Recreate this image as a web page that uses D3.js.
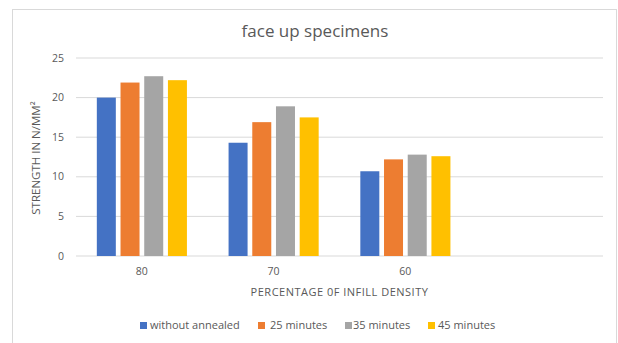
<!DOCTYPE html>
<html><head><meta charset="utf-8">
<script src="https://cdn.jsdelivr.net/npm/d3@7"></script>
<style>body{margin:0;background:#fff;} text{font-family:"Open Sans",sans-serif;fill:#595959;}</style>
</head><body>
<svg id="c" width="618" height="343"></svg>
<script>
const categories = ["80", "70", "60", ""];
const seriesNames = ["without annealed", "25 minutes", "35 minutes", "45 minutes"];
const withoutAnnealed = [20.0, 14.3, 10.7, null];
const min25 = [21.9, 16.9, 12.2, null];
const min35 = [22.7, 18.9, 12.8, null];
const min45 = [22.2, 17.5, 12.6, null];
const yTicks = [0, 5, 10, 15, 20, 25];
const colors = ["#4472C4", "#ED7D31", "#A5A5A5", "#FFC000"];
const series = [withoutAnnealed, min25, min35, min45];

const svg = d3.select("#c");
svg.append("rect").attr("x", 12.5).attr("y", 9.5).attr("width", 604).attr("height", 340)
  .attr("fill", "#fff").attr("stroke", "#D9D9D9");

const m = {l: 76, r: 603, t: 58, b: 256};
const x = d3.scaleBand().domain(categories).range([m.l, m.r]);
const y = d3.scaleLinear().domain([0, 25]).range([m.b, m.t]);

svg.append("g").selectAll("line").data(yTicks).join("line")
  .attr("x1", m.l).attr("x2", m.r).attr("y1", d => y(d)).attr("y2", d => y(d))
  .attr("stroke", "#D9D9D9").attr("stroke-width", 1);

svg.append("g").selectAll("text").data(yTicks).join("text")
  .attr("x", 64).attr("y", d => y(d)).attr("dy", "0.35em").attr("text-anchor", "end")
  .attr("font-size", 10.5).text(d => d);

const barW = 19, step = 23.7;
series.forEach((vals, si) => {
  svg.append("g").selectAll("rect").data(categories.map((c, i) => ({c, v: vals[i]})).filter(d => d.v != null))
    .join("rect")
    .attr("x", d => x(d.c) + x.bandwidth() / 2 + (si - 1.5) * step - barW / 2)
    .attr("width", barW)
    .attr("y", d => y(d.v)).attr("height", d => y(0) - y(d.v))
    .attr("fill", colors[si]);
});

svg.append("g").selectAll("text").data(categories).join("text")
  .attr("x", d => x(d) + x.bandwidth() / 2).attr("y", 271).attr("dy", "0.35em")
  .attr("text-anchor", "middle").attr("font-size", 10.5).text(d => d);

svg.append("text").attr("x", (m.l + m.r) / 2).attr("y", 292).attr("dy", "0.35em")
  .attr("text-anchor", "middle").attr("font-size", 11).attr("letter-spacing", 0.5)
  .text("PERCENTAGE 0F INFILL DENSITY");

svg.append("text").attr("transform", "translate(36,158) rotate(-90)").attr("dy", "0.35em")
  .attr("text-anchor", "middle").attr("font-size", 11.5).text("STRENGTH  IN N/MM²");

svg.append("text").attr("x", 315).attr("y", 31).attr("dy", "0.35em")
  .attr("text-anchor", "middle").attr("font-size", 17).text("face up specimens");

const legX = [140, 258, 345, 428];
const legTx = [150, 270, 353, 438];
seriesNames.forEach((n, i) => {
  svg.append("rect").attr("x", legX[i]).attr("y", 322).attr("width", 7).attr("height", 7).attr("fill", colors[i]);
  svg.append("text").attr("x", legTx[i]).attr("y", 325.5).attr("dy", "0.35em").attr("font-size", 11).text(n);
});
</script>
</body></html>
